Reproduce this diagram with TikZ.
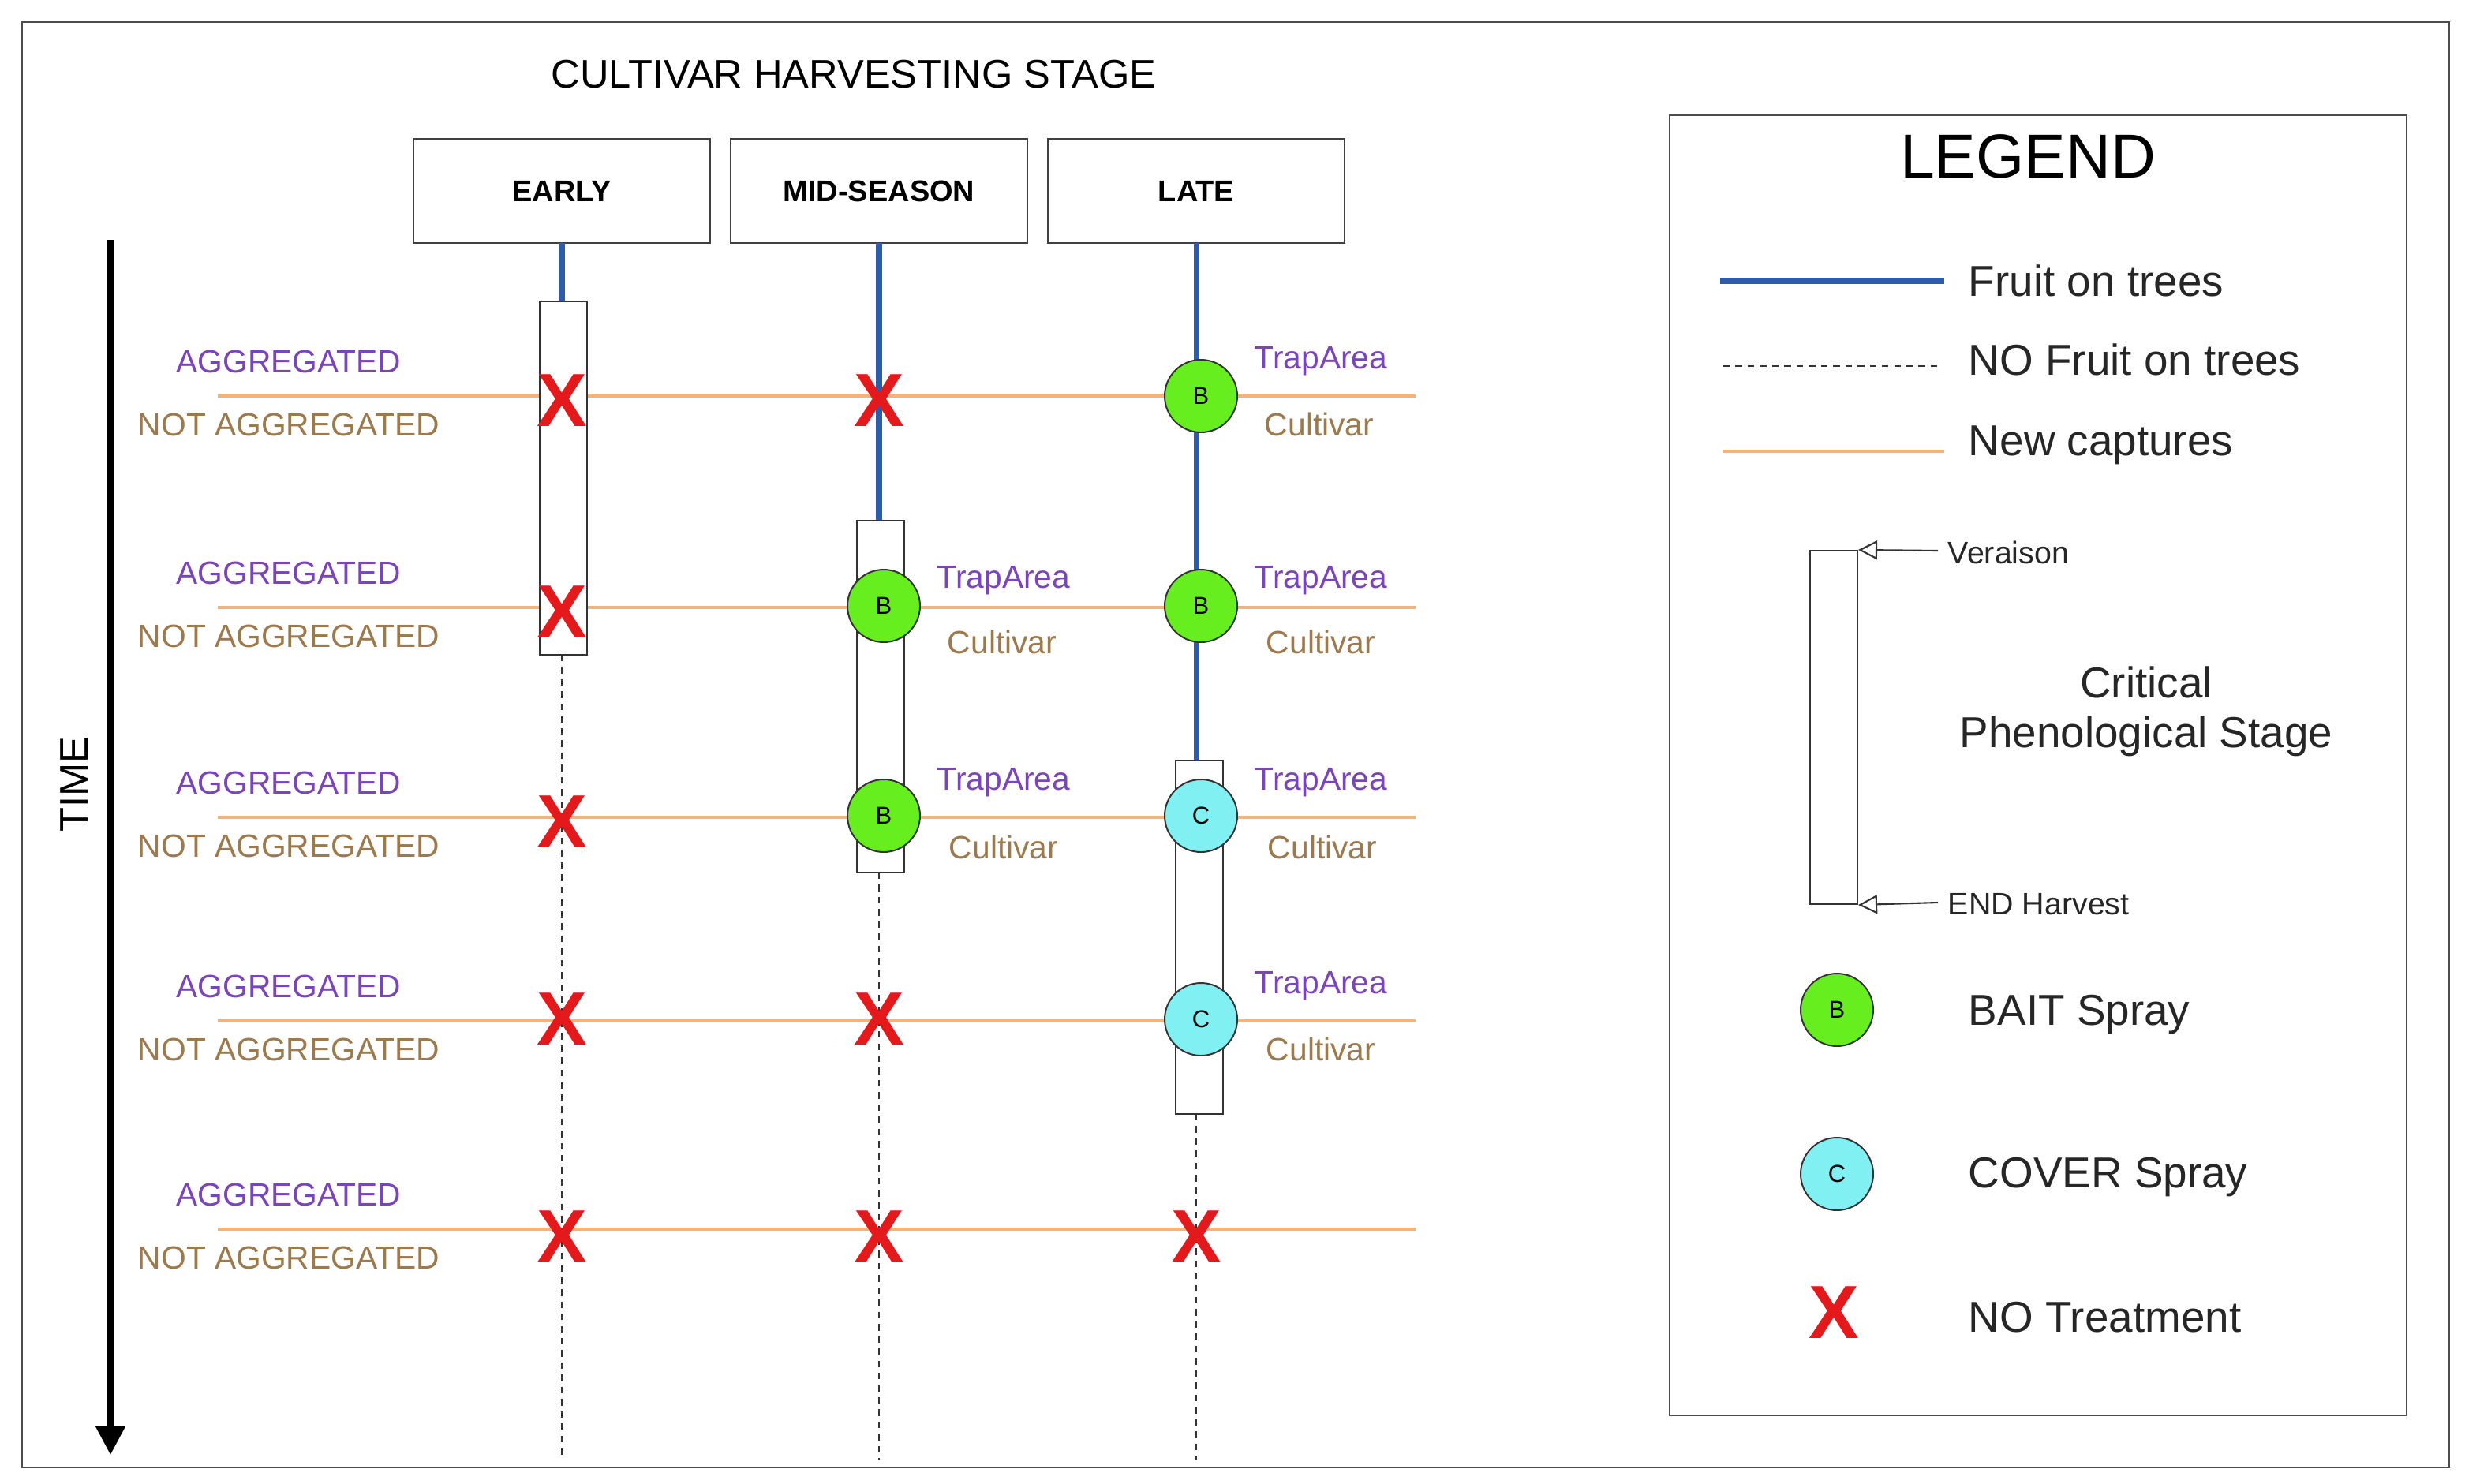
\documentclass[tikz,border=0pt]{standalone}
\usepackage{fontspec}
\setmainfont{Liberation Sans}
\usetikzlibrary{arrows.meta}
\definecolor{fblue}{HTML}{2F5BA9}
\definecolor{forange}{HTML}{F2B47A}
\definecolor{fpurple}{HTML}{7A45B8}
\definecolor{fbrown}{HTML}{9C7A4E}
\definecolor{fgreen}{HTML}{66EE1E}
\definecolor{fcyan}{HTML}{80F0F2}
\definecolor{fred}{HTML}{E3191C}
\newcommand{\fsz}[1]{\fontsize{#1}{#1}\selectfont}
\begin{document}
\begin{tikzpicture}[x=0.05cm,y=-0.05cm,
  hdr/.style={draw=black!75,line width=1.3pt,minimum width=9.4cm,minimum height=3.3cm,font=\fsz{27}\bfseries},
  fruit/.style={fblue,line width=5pt},
  nofruit/.style={black!80,dashed,line width=1.2pt,dash pattern=on 6pt off 5pt},
  capt/.style={forange,line width=2.4pt},
  crit/.style={draw=black!80,line width=1.5pt,fill=white},
  agg/.style={fpurple,font=\fsz{29}},
  nagg/.style={fbrown,font=\fsz{29}},
  bait/.style={circle,draw=black!80,line width=1.4pt,fill=fgreen,minimum size=2.3cm,inner sep=0pt,font=\fsz{22}},
  cover/.style={circle,draw=black!80,line width=1.4pt,fill=fcyan,minimum size=2.3cm,inner sep=0pt,font=\fsz{22}},
  nox/.style={fred,font=\fsz{68}\bfseries,inner sep=0pt},
  lt/.style={anchor=west,font=\fsz{39},text=black!85},
  sm/.style={anchor=west,font=\fsz{28},text=black!85}]
\useasboundingbox (0,0) rectangle (1562,940);
\draw[black!70,line width=2pt] (14,14) rectangle (1552,930);
\node[font=\fsz{36}] (title) at (541,47) {CULTIVAR HARVESTING STAGE};
\node[hdr] (early) at (356,121) {EARLY};
\node[hdr] (mid) at (557,121) {MID-SEASON};
\node[hdr] (late) at (758,121) {LATE};
\coordinate (ta) at (70,152); \coordinate (tb) at (70,922);
\draw[line width=5pt,-{Triangle[length=0.9cm,width=0.9cm]}] (ta) -- (tb);
\node[rotate=90,font=\fsz{36}] (time) at (47,497) {TIME};
% capture lines and labels
\foreach \r/\y in {1/251,2/385,3/518,4/647,5/779}{
  \coordinate (la\r) at (138,\y); \coordinate (lb\r) at (897,\y);
  \draw[capt] (la\r) -- (lb\r);
  \node[agg] (ag\r) at (183,\y-22) {AGGREGATED};
  \node[nagg] (na\r) at (183,\y+18) {NOT AGGREGATED};
}
% early
\coordinate (e0) at (356,154); \coordinate (e1) at (356,191); \coordinate (e2) at (356,415); \coordinate (e3) at (356,925);
\draw[fruit] (e0) -- (e1);
\draw[nofruit] (e2) -- (e3);
\node[crit,minimum width=1.5cm,minimum height=11.2cm,inner sep=0pt] (ecr) at (357,303) {};
% mid
\coordinate (m0) at (557,154); \coordinate (m1) at (557,330); \coordinate (m2) at (557,553); \coordinate (m3) at (557,925);
\draw[fruit] (m0) -- (m1);
\draw[nofruit] (m2) -- (m3);
\node[crit,minimum width=1.5cm,minimum height=11.15cm,inner sep=0pt] (mcr) at (558,441.5) {};
% late
\coordinate (l0) at (758,154); \coordinate (l1) at (758,482); \coordinate (l2) at (758,706); \coordinate (l3) at (758,925);
\draw[fruit] (l0) -- (l1);
\draw[nofruit] (l2) -- (l3);
\node[crit,minimum width=1.5cm,minimum height=11.2cm,inner sep=0pt] (lcr) at (760,594) {};
% marks
\node[nox] (x11) at (356,254) {X};
\node[nox] (x21) at (557,254) {X};
\node[nox] (x12) at (356,388) {X};
\node[nox] (x13) at (356,521) {X};
\node[nox] (x14) at (356,646) {X};
\node[nox] (x24) at (557,646) {X};
\node[nox] (x15) at (356,784) {X};
\node[nox] (x25) at (557,784) {X};
\node[nox] (x35) at (758,784) {X};
\node[bait] (b31) at (761,251) {B};
\node[bait] (b22) at (560,384) {B};
\node[bait] (b32) at (761,384) {B};
\node[bait] (b23) at (560,517) {B};
\node[cover] (c33) at (761,517) {C};
\node[cover] (c34) at (761,646) {C};
\foreach \n/\x/\y in {t31/837/229,t22/636/368,t32/837/368,t23/636/496,t33/837/496,t34/837/625}
  \node[agg] (\n) at (\x,\y) {TrapArea};
\foreach \n/\x/\y in {k31/836/269,k22/635/407,k32/837/407,k23/636/537,k33/838/537,k34/837/665}
  \node[nagg] (\n) at (\x,\y) {Cultivar};
% legend
\draw[black!70,line width=1.8pt] (1058,73) rectangle (1525,897);
\node[font=\fsz{56}] (leg) at (1285,99) {LEGEND};
\coordinate (f1) at (1090,178); \coordinate (f2) at (1232,178);
\draw[fruit] (f1) -- (f2);
\node[lt] (lf) at (1245,178) {Fruit on trees};
\coordinate (d1) at (1092,232); \coordinate (d2) at (1228,232);
\draw[nofruit] (d1) -- (d2);
\node[lt] (ld) at (1245,228) {NO Fruit on trees};
\coordinate (o1) at (1092,286); \coordinate (o2) at (1232,286);
\draw[capt] (o1) -- (o2);
\node[lt] (lo) at (1245,282) {New captures};
\node[crit,minimum width=1.5cm,minimum height=11.2cm,inner sep=0pt] (lcrit) at (1162,461) {};
\coordinate (v1) at (1228,349); \coordinate (v2) at (1228,572);
\draw[black!80,line width=1.5pt,-{Triangle[open,length=0.6cm,width=0.6cm]}] (v1) -- (lcrit.north east);
\draw[black!80,line width=1.5pt,-{Triangle[open,length=0.6cm,width=0.6cm]}] (v2) -- (lcrit.south east);
\node[sm] (lv) at (1232,350) {Veraison};
\node[sm] (le) at (1232,573) {END Harvest};
\node[font=\fsz{39},text=black!85,align=center] (lc) at (1360,451) {Critical\\[6pt]Phenological Stage};
\node[bait] (lb) at (1164,640) {B};
\node[lt] (lbt) at (1245,643) {BAIT Spray};
\node[cover] (lcv) at (1164,744) {C};
\node[lt] (lct) at (1245,746) {COVER Spray};
\node[nox] (lx) at (1162,832) {X};
\node[lt] (lxt) at (1245,835) {NO Treatment};
\end{tikzpicture}
\end{document}
